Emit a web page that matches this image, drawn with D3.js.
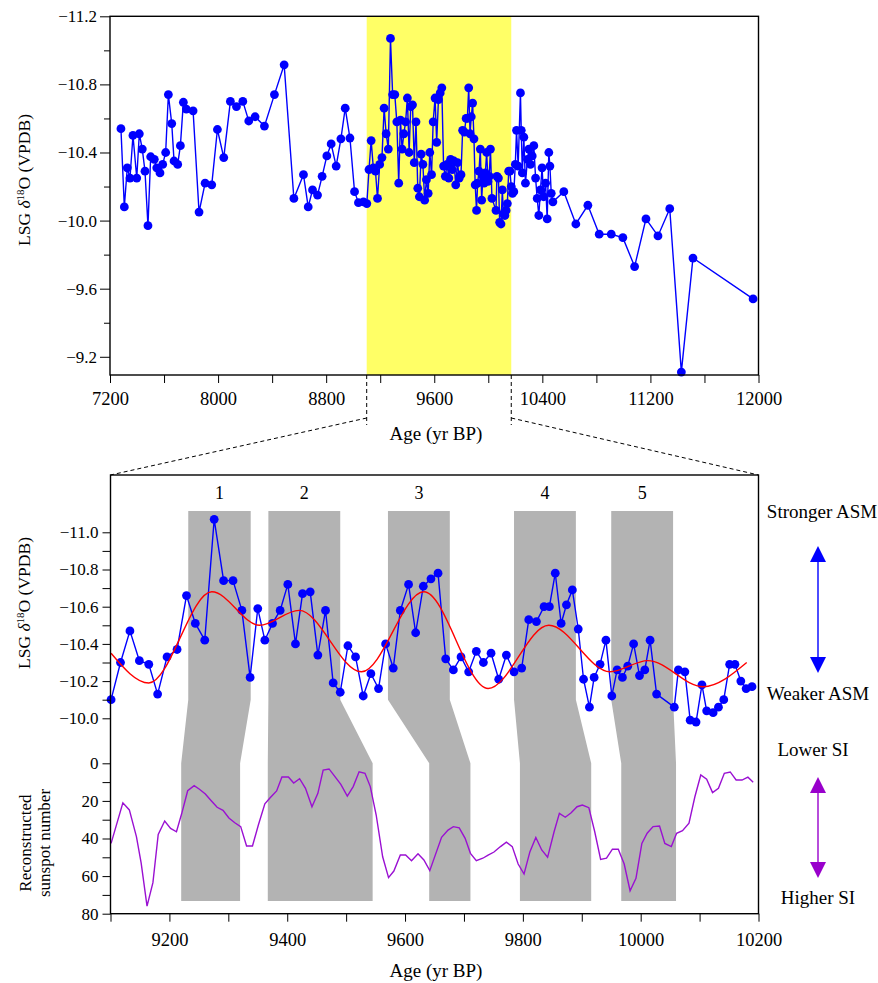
<!DOCTYPE html>
<html>
<head>
<meta charset="utf-8">
<script src="https://cdn.jsdelivr.net/npm/d3@7"></script>
<style>
  body { margin: 0; background: #fff; }
  text { font-family: "Liberation Serif", "Times New Roman", serif; fill: #000; }
</style>
</head>
<body>
<div id="chart"></div>
<script>
// ---- data ----
// full LSG record, split in three pieces (before / inside / after the zoom window)
var preAge = [7281, 7306, 7328, 7348, 7370, 7398, 7417, 7439, 7459, 7481, 7501, 7528, 7546, 7570, 7590,
  7612, 7632, 7657, 7674, 7701, 7721, 7743, 7765, 7815, 7859, 7904, 7953, 7995, 8042, 8091, 8136, 8183,
  8227, 8274, 8343, 8417, 8489, 8561, 8632, 8667, 8699, 8736, 8770, 8805, 8837, 8874, 8909, 8941, 8976,
  9010, 9039, 9076];
var preD18O = [-10.54, -10.08, -10.31, -10.25, -10.50, -10.25, -10.51, -10.42, -10.29, -9.97, -10.375,
  -10.36, -10.31, -10.28, -10.33, -10.40, -10.74, -10.57, -10.35, -10.33, -10.44, -10.695, -10.655,
  -10.645, -10.05, -10.22, -10.21, -10.535, -10.37, -10.70, -10.67, -10.70, -10.585, -10.61, -10.555,
  -10.74, -10.915, -10.13, -10.27, -10.08, -10.18, -10.15, -10.26, -10.38, -10.45, -10.32, -10.48,
  -10.66, -10.485, -10.17, -10.105, -10.11];

var zoomAge = [9101, 9117, 9133, 9149, 9165, 9180, 9196, 9213, 9229, 9244, 9260, 9276, 9292, 9308, 9323,
  9337, 9350, 9362, 9375, 9388, 9401, 9414, 9426, 9439, 9452, 9465, 9478, 9490, 9503, 9516, 9529, 9542,
  9555, 9567, 9580, 9592, 9606, 9618, 9631, 9644, 9656, 9669, 9682, 9695, 9708, 9721, 9733, 9746, 9759,
  9772, 9785, 9798, 9810, 9823, 9836, 9845, 9855, 9865, 9874, 9884, 9894, 9903, 9913, 9921, 9931, 9941,
  9951, 9960, 9969, 9978, 9988, 9998, 10007, 10016, 10027, 10057, 10064, 10075, 10084, 10094, 10104,
  10112, 10123, 10132, 10141, 10151, 10160, 10170, 10179, 10189];
var zoomD18O = [-10.10, -10.30, -10.47, -10.31, -10.29, -10.13, -10.33, -10.37, -10.66, -10.51, -10.42,
  -11.07, -10.74, -10.74, -10.58, -10.22, -10.59, -10.42, -10.51, -10.58, -10.72, -10.40, -10.67, -10.68,
  -10.34, -10.58, -10.19, -10.14, -10.39, -10.33, -10.12, -10.24, -10.16, -10.40, -10.27, -10.58, -10.72,
  -10.46, -10.71, -10.75, -10.78, -10.32, -10.26, -10.33, -10.25, -10.36, -10.30, -10.35, -10.21, -10.34,
  -10.25, -10.27, -10.53, -10.52, -10.60, -10.60, -10.78, -10.51, -10.61, -10.69, -10.48, -10.21, -10.06,
  -10.22, -10.29, -10.42, -10.12, -10.26, -10.22, -10.28, -10.40, -10.23, -10.26, -10.42, -10.13, -10.06,
  -10.26, -10.25, -9.99, -9.98, -10.18, -10.04, -10.03, -10.06, -10.10, -10.29, -10.29, -10.20, -10.16,
  -10.17];

var postAge = [10200, 10209, 10221, 10238, 10244, 10252, 10263, 10275, 10290, 10300, 10312, 10325, 10337,
  10350, 10362, 10374, 10386, 10398, 10410, 10424, 10436, 10448, 10456, 10466, 10478, 10559, 10648, 10737,
  10821, 10910, 10996, 11083, 11167, 11256, 11343, 11429, 11515, 11960];
var postD18O = [-10.33, -10.53, -10.32, -10.75, -10.53, -10.28, -10.49, -10.22, -10.36, -10.42, -10.33,
  -10.38, -10.44, -10.25, -10.13, -10.03, -10.18, -10.31, -10.14, -10.22, -10.01, -10.40, -10.32, -10.16,
  -10.11, -10.17, -9.98, -10.09, -9.92, -9.92, -9.90, -9.73, -10.01, -9.91, -10.07, -9.11, -9.78, -9.54];

// smoothed curve (turning points)
var smoothAge = [9101, 9165, 9272, 9353, 9420, 9526, 9632, 9741, 9844, 9948, 10012, 10106, 10180];
var smoothD18O = [-10.35, -10.19, -10.68, -10.50, -10.58, -10.25, -10.68, -10.16, -10.50, -10.25, -10.31, -10.17, -10.30];

// reconstructed sunspot number
var sunAge = [9101, 9121, 9132, 9144, 9152, 9162, 9172, 9181, 9192, 9202, 9212, 9221, 9231, 9242, 9251,
  9261, 9271, 9281, 9291, 9301, 9311, 9321, 9331, 9341, 9351, 9362, 9371, 9382, 9391, 9402, 9411, 9421,
  9431, 9442, 9452, 9461, 9471, 9481, 9491, 9502, 9512, 9522, 9532, 9541, 9551, 9562, 9572, 9581, 9592,
  9601, 9611, 9622, 9632, 9642, 9662, 9673, 9682, 9692, 9702, 9711, 9721, 9732, 9741, 9751, 9762, 9772,
  9782, 9792, 9802, 9812, 9822, 9832, 9842, 9853, 9862, 9872, 9882, 9892, 9901, 9912, 9922, 9932, 9942,
  9952, 9962, 9972, 9982, 9992, 10002, 10011, 10021, 10032, 10041, 10052, 10061, 10071, 10082, 10092,
  10102, 10112, 10122, 10132, 10142, 10152, 10162, 10172, 10182, 10191];
var sunSSN = [42.6, 21, 24.8, 39, 53, 76, 63.5, 37.8, 30.7, 34.6, 36.4, 26.6, 14.6, 11.9, 13.8, 16.3, 19.9,
  23.4, 25, 29.1, 31.6, 33.7, 44, 44, 32.8, 21.6, 18.3, 14.7, 7.3, 7.3, 10.5, 8.2, 13.3, 23.1, 16, 3.6, 3,
  7.1, 11.2, 17.4, 12.4, 4.5, 5.3, 12.4, 27.5, 49.7, 60.8, 57.3, 48.8, 48.8, 51.8, 48.1, 51.4, 57.1, 39.4,
  35.5, 33.7, 34.3, 39.9, 47.9, 51.8, 50.5, 48.8, 47.2, 44.3, 41.9, 44.3, 53.6, 58.9, 47, 39.4, 46.1, 50,
  36.4, 26.6, 28.7, 26.3, 23.1, 22.2, 23.6, 36.4, 51.1, 50.5, 45.7, 45.7, 53.6, 67.8, 61.2, 42.6, 37.2,
  33.7, 33.4, 42.6, 44.3, 37.2, 35.8, 31.9, 17.8, 6.2, 8.5, 15.6, 13.3, 5.3, 4.6, 8.9, 8.9, 7.4, 10.1];

// correlated intervals (age, upper part / lower part)
var bandLabels = ["1", "2", "3", "4", "5"];
var bandUpStart = [9232, 9368, 9571, 9785, 9950];
var bandUpEnd = [9338, 9490, 9676, 9890, 10055];
var bandLowStart = [9220, 9367, 9641, 9795, 9967];
var bandLowEnd = [9320, 9545, 9711, 9916, 10060];

var zoomWindow = [9100, 10170];

// tick values
var topXTicks = d3.range(7200, 12001, 400);
var topXLabels = [7200, 8000, 8800, 9600, 10400, 11200, 12000];
var topYMajor = [-11.2, -10.8, -10.4, -10.0, -9.6, -9.2];
var topYMinor = [-11.0, -10.6, -10.2, -9.8, -9.4];
var botXTicks = d3.range(9100, 10201, 100);
var botXLabels = [9200, 9400, 9600, 9800, 10000, 10200];
var upYTicks = [-11.0, -10.9, -10.8, -10.7, -10.6, -10.5, -10.4, -10.3, -10.2, -10.1, -10.0];
var upYLabels = [-11.0, -10.8, -10.6, -10.4, -10.2, -10.0];
var sunYTicks = [0, 10, 20, 30, 40, 50, 60, 70, 80];
var sunYLabels = [0, 20, 40, 60, 80];

// ---- setup ----
var svgWidth = 878, svgHeight = 983;
var svg = d3.select("#chart").append("svg")
  .attr("width", svgWidth)
  .attr("height", svgHeight);

var blue = "#0000ff", purple = "#9a10d2";
var fmt1 = d => "\u2212" + Math.abs(d).toFixed(1);

var allAge = preAge.concat(zoomAge, postAge);
var allD18O = preD18O.concat(zoomD18O, postD18O);
var lsgData = allAge.map((a, i) => ({age: a, v: allD18O[i]}));
var zoomData = zoomAge.map((a, i) => ({age: a, v: zoomD18O[i]}));
var smoothData = smoothAge.map((a, i) => ({age: a, v: smoothD18O[i]}));
var sunData = sunAge.map((a, i) => ({age: a, v: sunSSN[i]}));

function styleAxis(g, fs) {
  g.select(".domain").remove();
  g.selectAll(".tick line").attr("stroke", "#000").attr("stroke-width", 1);
  g.selectAll(".tick text").style("font-size", fs).attr("font-family", null);
}

function deltaLabel(cx, cy) {
  var t = svg.append("text")
    .attr("transform", `translate(${cx},${cy}) rotate(-90)`)
    .attr("text-anchor", "middle")
    .style("font-size", "17.5px");
  t.append("tspan").text("LSG ");
  t.append("tspan").style("font-style", "italic").text("δ");
  t.append("tspan").attr("dy", -6).style("font-size", "11px").text("18");
  t.append("tspan").attr("dy", 6).text("O (VPDB)");
}

// ---- top panel ----
var topBox = {left: 110, right: 758.5, top: 16.3, bottom: 375};
var xTop = d3.scaleLinear().domain([7200, 12000]).range([topBox.left, topBox.right]);
var yTop = d3.scaleLinear().domain([-11.2, -9.093]).range([topBox.top, topBox.bottom]);

svg.append("rect")
  .attr("x", xTop(zoomWindow[0])).attr("y", topBox.top)
  .attr("width", xTop(zoomWindow[1]) - xTop(zoomWindow[0]))
  .attr("height", topBox.bottom - topBox.top)
  .attr("fill", "#ffff66");

svg.append("path")
  .datum(lsgData)
  .attr("fill", "none")
  .attr("stroke", blue)
  .attr("stroke-width", 1.4)
  .attr("d", d3.line().x(d => xTop(d.age)).y(d => yTop(d.v)));

svg.append("g").selectAll("circle")
  .data(lsgData)
  .enter()
  .append("circle")
  .attr("cx", d => xTop(d.age))
  .attr("cy", d => yTop(d.v))
  .attr("r", 4.4)
  .attr("fill", blue);

svg.append("rect")
  .attr("x", topBox.left).attr("y", topBox.top)
  .attr("width", topBox.right - topBox.left)
  .attr("height", topBox.bottom - topBox.top)
  .attr("fill", "none").attr("stroke", "#000").attr("stroke-width", 1.4);

svg.append("g")
  .attr("transform", `translate(0,${topBox.bottom})`)
  .call(d3.axisBottom(xTop).tickValues(topXTicks).tickSize(8).tickPadding(9)
    .tickFormat(d => topXLabels.indexOf(d) >= 0 ? d : ""))
  .call(g => styleAxis(g, "18.5px"));

svg.append("g")
  .attr("transform", `translate(${topBox.left},0)`)
  .call(d3.axisLeft(yTop).tickValues(topYMajor).tickSize(10).tickPadding(3).tickFormat(fmt1))
  .call(g => styleAxis(g, "17px"));

svg.append("g")
  .attr("transform", `translate(${topBox.left},0)`)
  .call(d3.axisLeft(yTop).tickValues(topYMinor).tickSize(6).tickFormat(""))
  .call(g => styleAxis(g, "17px"));

deltaLabel(30, 180);

svg.append("text")
  .attr("x", 436).attr("y", 440)
  .attr("text-anchor", "middle")
  .style("font-size", "19px")
  .text("Age (yr BP)");

// ---- bottom panel ----
var botBox = {left: 110.5, right: 758.5, top: 475, bottom: 913.7};
var xBot = d3.scaleLinear().domain([9100, 10200]).range([botBox.left, botBox.right]);
var yUp = d3.scaleLinear().domain([-11.0, -10.0]).range([532.3, 718.3]);
var ySun = d3.scaleLinear().domain([0, 80]).range([763.3, botBox.bottom]);

// connector from the zoom window
var connect = svg.append("g")
  .attr("fill", "none").attr("stroke", "#000").attr("stroke-width", 1)
  .attr("stroke-dasharray", "4,3");
connect.append("line")
  .attr("x1", xTop(zoomWindow[0])).attr("y1", topBox.bottom)
  .attr("x2", xTop(zoomWindow[0])).attr("y2", 425);
connect.append("line")
  .attr("x1", xTop(zoomWindow[1])).attr("y1", topBox.bottom)
  .attr("x2", xTop(zoomWindow[1])).attr("y2", 425);
connect.append("line")
  .attr("x1", xTop(zoomWindow[0])).attr("y1", 418)
  .attr("x2", botBox.left).attr("y2", botBox.top);
connect.append("line")
  .attr("x1", xTop(zoomWindow[1])).attr("y1", 418)
  .attr("x2", botBox.right).attr("y2", botBox.top);

// grey correlation bands
var upTop = yUp(-11.115), upBottom = yUp(-10.1), lowTop = ySun(0), lowBottom = ySun(73.3);
bandLabels.forEach(function(lab, i) {
  var u0 = xBot(bandUpStart[i]), u1 = xBot(bandUpEnd[i]);
  var l0 = xBot(bandLowStart[i]), l1 = xBot(bandLowEnd[i]);
  var pts = [[u0, upTop], [u1, upTop], [u1, upBottom], [l1, lowTop], [l1, lowBottom],
    [l0, lowBottom], [l0, lowTop], [u0, upBottom]];
  svg.append("path")
    .attr("d", "M" + pts.join("L") + "Z")
    .attr("fill", "#b3b3b3");
  svg.append("text")
    .attr("x", (u0 + u1) / 2).attr("y", 499)
    .attr("text-anchor", "middle")
    .style("font-size", "18px")
    .text(lab);
});

svg.append("path")
  .datum(zoomData)
  .attr("fill", "none")
  .attr("stroke", blue)
  .attr("stroke-width", 1.4)
  .attr("d", d3.line().x(d => xBot(d.age)).y(d => yUp(d.v)));

svg.append("g").selectAll("circle")
  .data(zoomData)
  .enter()
  .append("circle")
  .attr("cx", d => xBot(d.age))
  .attr("cy", d => yUp(d.v))
  .attr("r", 4.4)
  .attr("fill", blue);

svg.append("path")
  .datum(smoothData)
  .attr("fill", "none")
  .attr("stroke", "#ff0000")
  .attr("stroke-width", 1.4)
  .attr("d", d3.line().curve(d3.curveMonotoneX).x(d => xBot(d.age)).y(d => yUp(d.v)));

svg.append("path")
  .datum(sunData)
  .attr("fill", "none")
  .attr("stroke", purple)
  .attr("stroke-width", 1.4)
  .attr("d", d3.line().x(d => xBot(d.age)).y(d => ySun(d.v)));

svg.append("rect")
  .attr("x", botBox.left).attr("y", botBox.top)
  .attr("width", botBox.right - botBox.left)
  .attr("height", botBox.bottom - botBox.top)
  .attr("fill", "none").attr("stroke", "#000").attr("stroke-width", 1.4);

svg.append("g")
  .attr("transform", `translate(0,${botBox.bottom})`)
  .call(d3.axisBottom(xBot).tickValues(botXTicks).tickSize(8).tickPadding(11)
    .tickFormat(d => botXLabels.indexOf(d) >= 0 ? d : ""))
  .call(g => styleAxis(g, "18.5px"));

svg.append("g")
  .attr("transform", `translate(${botBox.left},0)`)
  .call(d3.axisLeft(yUp).tickValues(upYTicks).tickSize(8).tickPadding(4)
    .tickFormat(d => upYLabels.some(v => Math.abs(v - d) < 1e-6) ? fmt1(d) : ""))
  .call(g => styleAxis(g, "17px"));

svg.append("g")
  .attr("transform", `translate(${botBox.left},0)`)
  .call(d3.axisLeft(ySun).tickValues(sunYTicks).tickSize(8).tickPadding(4)
    .tickFormat(d => sunYLabels.indexOf(d) >= 0 ? d : ""))
  .call(g => styleAxis(g, "17px"));

deltaLabel(30, 603);

svg.append("text")
  .attr("transform", "translate(31,843) rotate(-90)")
  .attr("text-anchor", "middle").style("font-size", "17px")
  .text("Reconstructed");
svg.append("text")
  .attr("transform", "translate(50,843) rotate(-90)")
  .attr("text-anchor", "middle").style("font-size", "17px")
  .text("sunspot number");

svg.append("text")
  .attr("x", 436).attr("y", 977)
  .attr("text-anchor", "middle")
  .style("font-size", "19px")
  .text("Age (yr BP)");

// ---- right-hand annotations ----
function doubleArrow(x, y0, y1, color) {
  var head = 16, half = 8;
  svg.append("line")
    .attr("x1", x).attr("x2", x).attr("y1", y0 + head).attr("y2", y1 - head)
    .attr("stroke", color).attr("stroke-width", 1.4);
  svg.append("path")
    .attr("d", `M${x},${y0}L${x - half},${y0 + head}L${x + half},${y0 + head}Z`)
    .attr("fill", color);
  svg.append("path")
    .attr("d", `M${x},${y1}L${x - half},${y1 - head}L${x + half},${y1 - head}Z`)
    .attr("fill", color);
}

var notes = [["Stronger ASM", 822, 518], ["Weaker ASM", 818, 700], ["Lower SI", 813, 756], ["Higher SI", 818, 904]];
notes.forEach(function(n) {
  svg.append("text")
    .attr("x", n[1]).attr("y", n[2])
    .attr("text-anchor", "middle")
    .style("font-size", "19px")
    .text(n[0]);
});
doubleArrow(818, 546, 673, blue);
doubleArrow(818, 777, 878, "#9900cc");
</script>
</body>
</html>
